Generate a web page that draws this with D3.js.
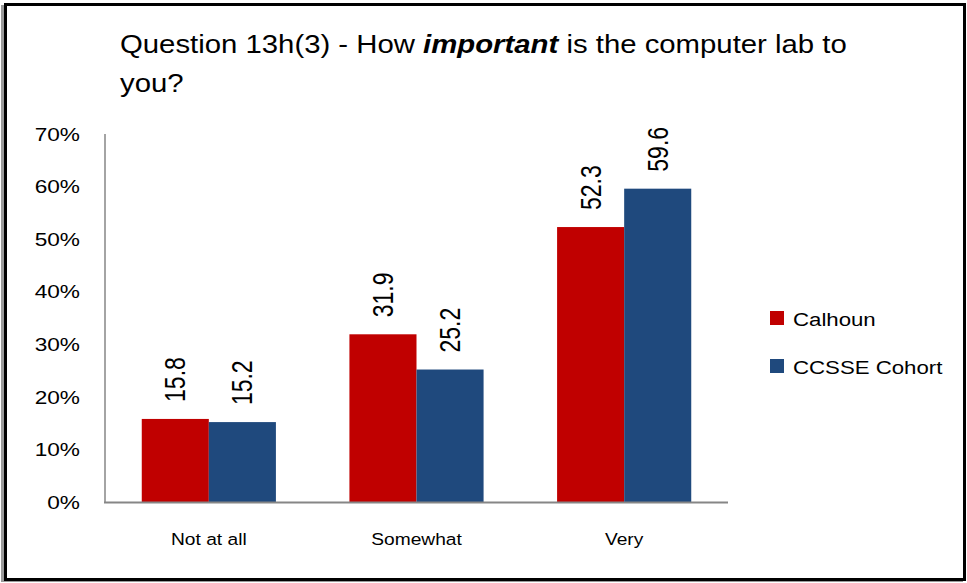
<!DOCTYPE html>
<html><head><meta charset="utf-8">
<script src="https://cdn.jsdelivr.net/npm/d3@7"></script>
<style>
body{margin:0;background:#fff}
svg{display:block}
text{font-family:"Liberation Sans",Arial,sans-serif;fill:#000}
</style>
</head><body>
<svg id="c" width="967" height="583"></svg>
<script>
// ---- data ----
const categories = ["Not at all", "Somewhat", "Very"];
const seriesNames = ["Calhoun", "CCSSE Cohort"];
const calhoun = [15.8, 31.9, 52.3];
const ccsse = [15.2, 25.2, 59.6];
const yTicks = [0, 10, 20, 30, 40, 50, 60, 70];
const colors = ["#C00000", "#1F497D"];
const titleLine1 = [
  {t: "Question 13h(3) - How ", b: false},
  {t: "important", b: true},
  {t: " is the computer lab to", b: false}
];
const titleLine2 = "you?";

const seriesValues = [calhoun, ccsse];
const SX = 1.25; // horizontal stretch of the source picture

const svg = d3.select("#c");

// frame with shadow
svg.append("rect").attr("x", 1).attr("y", 5).attr("width", 962).attr("height", 577)
  .attr("fill", "#9a9a9a");
svg.append("rect").attr("x", 5.5).attr("y", 4.5).attr("width", 959).attr("height", 575)
  .attr("fill", "#fff").attr("stroke", "#000").attr("stroke-width", 3);

// scales
const plot = {left: 105, right: 728, top: 134, bottom: 502};
const y = d3.scaleLinear().domain([0, 70]).range([plot.bottom, plot.top]);
const x0 = d3.scaleBand().domain(categories).range([plot.left, plot.right]).padding(0);
const bw = x0.bandwidth();
const x1 = d3.scaleBand().domain(seriesNames).range([bw * 0.177, bw * 0.823]).padding(0);

// title
const t1 = svg.append("text").attr("font-size", 26);
titleLine1.forEach(p => {
  t1.append("tspan").text(p.t)
    .attr("font-weight", p.b ? "bold" : null)
    .attr("font-style", p.b ? "italic" : null);
});
const L = t1.node().getComputedTextLength();
const tsx = 727 / L;
t1.attr("transform", `translate(120,53) scale(${tsx},1)`);
svg.append("text").attr("font-size", 26).text(titleLine2)
  .attr("transform", `translate(120,92) scale(${tsx},1)`);

// y axis labels
svg.append("g").selectAll("text").data(yTicks).join("text")
  .attr("font-size", 18.5)
  .attr("text-anchor", "end")
  .attr("dy", "0.36em")
  .attr("transform", d => `translate(80,${y(d)}) scale(${SX * 0.98},1)`)
  .text(d => d + "%");

// bars
const groups = svg.append("g").selectAll("g").data(categories).join("g")
  .attr("transform", d => `translate(${x0(d)},0)`);
groups.selectAll("rect")
  .data((c, i) => seriesNames.map((s, j) => ({s, v: seriesValues[j][i], j})))
  .join("rect")
  .attr("x", d => x1(d.s))
  .attr("y", d => y(d.v))
  .attr("width", x1.bandwidth())
  .attr("height", d => y(0) - y(d.v))
  .attr("fill", d => colors[d.j]);

// value labels
groups.selectAll("text")
  .data((c, i) => seriesNames.map((s, j) => ({s, v: seriesValues[j][i], j})))
  .join("text")
  .attr("font-size", 23)
  .attr("dominant-baseline", "central")
  .attr("transform", d => `translate(${x1(d.s) + x1.bandwidth() / 2},${y(d.v) - 17}) scale(${SX},1) rotate(-90)`)
  .text(d => d.v.toFixed(1));

// axes lines
svg.append("line").attr("x1", plot.left).attr("x2", plot.left)
  .attr("y1", y(70)).attr("y2", y(0)).attr("stroke", "#868686").attr("stroke-width", 1.5);
svg.append("line").attr("x1", plot.left - 1).attr("x2", plot.right)
  .attr("y1", y(0) + 0.5).attr("y2", y(0) + 0.5).attr("stroke", "#868686").attr("stroke-width", 2);

// x labels
svg.append("g").selectAll("text").data(categories).join("text")
  .attr("font-size", 16.5)
  .attr("text-anchor", "middle")
  .attr("transform", d => `translate(${x0(d) + bw / 2},545) scale(${SX * 0.93},1)`)
  .text(d => d);

// legend
const leg = svg.append("g").selectAll("g").data(seriesNames).join("g")
  .attr("transform", (d, i) => `translate(770,${311 + i * 48})`);
leg.append("rect").attr("width", 14).attr("height", 14).attr("fill", (d, i) => colors[i]);
leg.append("text").attr("font-size", 19)
  .attr("transform", `translate(23,15) scale(1.17,1)`)
  .text(d => d);
</script>
</body></html>
